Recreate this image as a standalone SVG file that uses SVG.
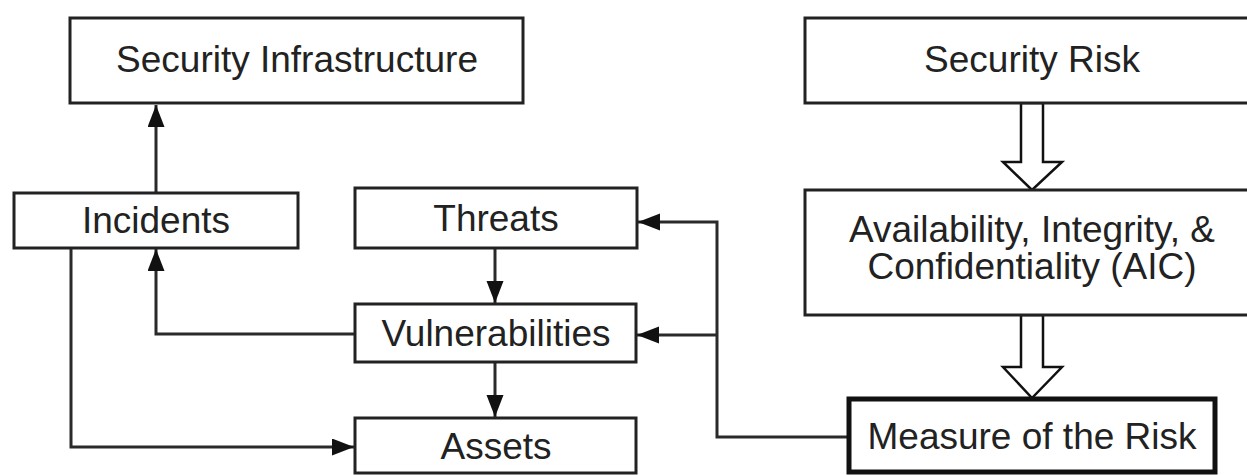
<svg xmlns="http://www.w3.org/2000/svg" width="1247" height="475" viewBox="0 0 1247 475">
<style>
.box{fill:#fff;stroke:#222;stroke-width:3}
.bold{fill:#fff;stroke:#111;stroke-width:5}
.lbl{font-family:"Liberation Sans",Arial,sans-serif;font-size:37px;fill:#222;text-anchor:middle}
.con{fill:none;stroke:#2a2a2a;stroke-width:3}
.hollow{fill:#fff;stroke:#111;stroke-width:2.5;stroke-linejoin:miter}
</style>
<defs>
<marker id="ah" markerUnits="userSpaceOnUse" markerWidth="22" markerHeight="18" refX="22" refY="8.5" orient="auto">
<path d="M0,0 L22,8.5 L0,17 z" fill="#111"/>
</marker>
</defs>
<rect width="1247" height="475" fill="#fff"/>
<g id="connectors">
<path class="con" d="M156,193 V105" marker-end="url(#ah)"/>
<path class="con" d="M495,248 V303" marker-end="url(#ah)"/>
<path class="con" d="M495,362 V417" marker-end="url(#ah)"/>
<path class="con" d="M355,334 H156 V249" marker-end="url(#ah)"/>
<path class="con" d="M71,248 V447 H354" marker-end="url(#ah)"/>
<path class="con" d="M849,437 H717 V222 H638" marker-end="url(#ah)"/>
<path class="con" d="M717,335 H637" marker-end="url(#ah)"/>
<polygon class="hollow" points="1021,103 1043,103 1043,162 1062,162 1032,190 1003,162 1021,162"/>
<polygon class="hollow" points="1021,315 1043,315 1043,367 1062,367 1032,398 1003,367 1021,367"/>
</g>
<g id="security-infrastructure">
<rect class="box" x="70" y="18" width="453" height="85"/>
<text class="lbl" x="297" y="72">Security Infrastructure</text>
</g>
<g id="security-risk">
<rect class="box" x="805" y="18" width="454" height="85"/>
<text class="lbl" x="1032" y="72">Security Risk</text>
</g>
<g id="incidents">
<rect class="box" x="14" y="193" width="284" height="55"/>
<text class="lbl" x="156" y="233">Incidents</text>
</g>
<g id="threats">
<rect class="box" x="355" y="188" width="282" height="60"/>
<text class="lbl" x="496" y="231">Threats</text>
</g>
<g id="vulnerabilities">
<rect class="box" x="355" y="304" width="281" height="58"/>
<text class="lbl" x="496" y="346">Vulnerabilities</text>
</g>
<g id="assets">
<rect class="box" x="355" y="418" width="281" height="55"/>
<text class="lbl" x="496" y="459">Assets</text>
</g>
<g id="aic">
<rect class="box" x="805" y="190" width="454" height="125"/>
<text class="lbl" x="1032" y="242">Availability, Integrity, &amp;</text>
<text class="lbl" x="1032" y="279">Confidentiality (AIC)</text>
</g>
<g id="measure">
<rect class="bold" x="849" y="399" width="366" height="73"/>
<text class="lbl" x="1032" y="449">Measure of the Risk</text>
</g>
</svg>
